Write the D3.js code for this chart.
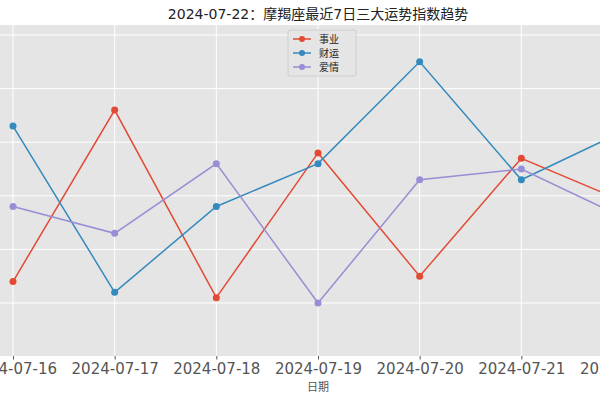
<!DOCTYPE html>
<html><head><meta charset="utf-8">
<script src="https://cdn.jsdelivr.net/npm/d3@7"></script>
<style>body{margin:0;overflow:hidden}svg{display:block}</style>
</head><body><svg id="c" width="600" height="400"></svg>
<script>
var dates = ['2024-07-16','2024-07-17','2024-07-18','2024-07-19','2024-07-20','2024-07-21','2024-07-22'];
var career = [44, 76, 41, 68, 45, 67, 59];
var wealth = [73, 42, 58, 66, 85, 63, 72];
var love = [58, 53, 66, 40, 63, 65, 56];
var names = ['事业','财运','爱情'];
var colors = ['#e24a33','#348abd','#988ed5'];
var series = [career, wealth, love];

var svg = d3.select('#c');
var font = '"DejaVu Sans", "Noto Sans CJK SC", sans-serif';
var plotTop = 25, plotBottom = 356;

var x = d3.scalePoint().domain(dates).range([13, 623]);
var y = d3.scaleLinear().domain([40, 90]).range([303, 35]);

svg.append('rect').attr('x', 0).attr('y', plotTop).attr('width', 600).attr('height', plotBottom - plotTop).attr('fill', '#e5e5e5');

// grid
svg.selectAll('.gy').data(d3.range(40, 100, 10)).join('line').attr('class', 'gy')
  .attr('x1', 0).attr('x2', 600).attr('y1', d => y(d)).attr('y2', d => y(d))
  .attr('stroke', '#fff').attr('stroke-width', 1);
svg.selectAll('.gx').data(dates).join('line').attr('class', 'gx')
  .attr('x1', d => x(d)).attr('x2', d => x(d)).attr('y1', plotTop).attr('y2', plotBottom)
  .attr('stroke', '#fff').attr('stroke-width', 1);

var xa = svg.append('g').attr('transform', 'translate(0,' + plotBottom + ')')
  .call(d3.axisBottom(x).tickSize(3.5).tickPadding(4));
xa.select('.domain').remove();
xa.selectAll('line').attr('stroke', '#555');
xa.selectAll('text').attr('font-size', 15).attr('fill', '#555').attr('font-family', font);

var line = d3.line().x((d, i) => x(dates[i])).y(d => y(d));
series.forEach(function (s, k) {
  svg.append('path').datum(s).attr('d', line).attr('fill', 'none')
    .attr('stroke', colors[k]).attr('stroke-width', 1.5);
  svg.selectAll('.p' + k).data(s).join('circle').attr('class', 'p' + k)
    .attr('cx', (d, i) => x(dates[i])).attr('cy', d => y(d)).attr('r', 3.5)
    .attr('fill', colors[k]);
});

// legend
var lg = svg.append('g').attr('transform', 'translate(288,30)');
lg.append('rect').attr('width', 68).attr('height', 46).attr('rx', 2)
  .attr('fill', '#e5e5e5').attr('stroke', '#ccc').attr('opacity', 0.9);
names.forEach(function (n, k) {
  var gy = 9 + k * 14;
  lg.append('line').attr('x1', 5).attr('x2', 23).attr('y1', gy).attr('y2', gy)
    .attr('stroke', colors[k]).attr('stroke-width', 1.5);
  lg.append('circle').attr('cx', 14).attr('cy', gy).attr('r', 3).attr('fill', colors[k]);
  lg.append('text').attr('x', 31).attr('y', gy + 4).text(n)
    .attr('font-size', 10).attr('font-family', '"Noto Sans CJK SC", sans-serif').attr('fill', '#222');
});

svg.append('text').attr('x', 318).attr('y', 19).attr('text-anchor', 'middle')
  .attr('font-size', 14).attr('font-family', font).attr('fill', '#222')
  .text('2024-07-22：摩羯座最近7日三大运势指数趋势');
svg.append('text').attr('x', 318).attr('y', 391).attr('text-anchor', 'middle')
  .attr('font-size', 11).attr('font-family', '"Noto Sans CJK SC", sans-serif').attr('fill', '#555').text('日期');
</script></body></html>
